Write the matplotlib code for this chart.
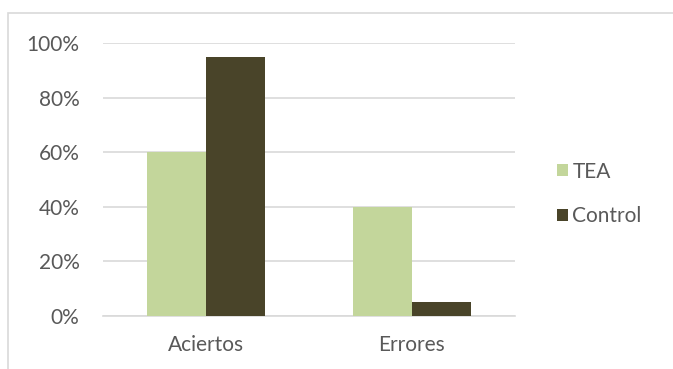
import matplotlib.pyplot as plt
from matplotlib.patches import Rectangle
import numpy as np

categories = ["Aciertos", "Errores"]
tea = [0.60, 0.40]
control = [0.95, 0.05]
yticks = [0, 0.2, 0.4, 0.6, 0.8, 1.0]
ytick_labels = ["0%", "20%", "40%", "60%", "80%", "100%"]

plt.rcParams['font.family'] = ['Lato', 'DejaVu Sans']

fig = plt.figure(figsize=(6.73, 3.69), dpi=100)
ax = fig.add_axes([103 / 673, 1 - 316 / 369, 412 / 673, 273 / 369])

# chart border (runs off the right and bottom edges)
fig.patches.append(Rectangle((8 / 673, -0.1), 1.1, 1 - 13 / 369 + 0.1,
                             transform=fig.transFigure, fill=False,
                             edgecolor='#D9D9D9', linewidth=1.2))

x = np.arange(len(categories))
w = 0.287
ax.bar(x - w / 2, tea, w, color='#C3D69B', label='TEA', zorder=3)
ax.bar(x + w / 2, control, w, color='#494429', label='Control', zorder=3)

ax.set_xlim(-0.5, 1.5)
ax.set_ylim(0, 1.0)
ax.set_yticks(yticks)
ax.set_yticklabels(ytick_labels)
ax.set_xticks(x)
ax.set_xticklabels(categories)
ax.grid(axis='y', color='#D9D9D9', linewidth=1.2, zorder=0)
for s in ['top', 'right', 'left']:
    ax.spines[s].set_visible(False)
ax.spines['bottom'].set_color('#D9D9D9')
ax.spines['bottom'].set_linewidth(1.2)
ax.tick_params(axis='both', length=0, colors='#595959', labelsize=15)
ax.tick_params(axis='y', pad=17)
ax.tick_params(axis='x', pad=14)

ax.legend(loc='center left', bbox_to_anchor=(538 / 673, 1 - 194 / 369), bbox_transform=fig.transFigure,
          frameon=False, fontsize=15, handlelength=0.55, handleheight=0.55,
          handletextpad=0.2, labelspacing=1.2, labelcolor='#595959')

fig.savefig('out.png', dpi=100)
